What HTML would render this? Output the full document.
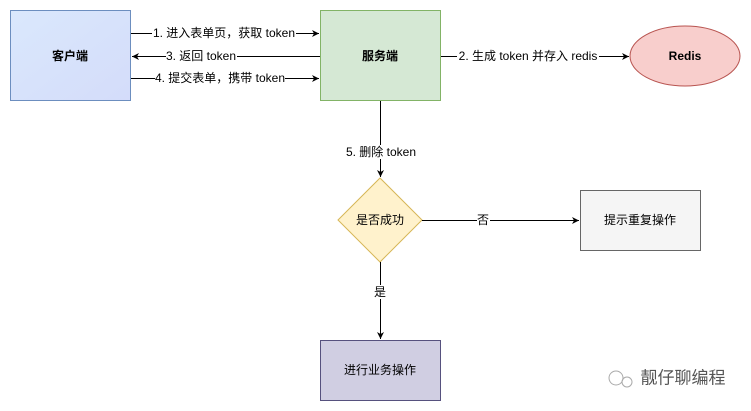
<html><body style="margin:0;width:751px;height:411px;background:#fff;position:relative;font-family:'Liberation Sans','Noto Sans CJK SC',sans-serif;overflow:hidden">
<svg width="751" height="411" style="position:absolute;left:0;top:0">
<defs>
<linearGradient id="g1" x1="0" y1="0" x2="1" y2="1"><stop offset="0" stop-color="#dae8fc"/><stop offset="1" stop-color="#d4dcfa"/></linearGradient>
<marker id="a" markerWidth="8" markerHeight="8" refX="7" refY="4" orient="auto" markerUnits="userSpaceOnUse"><path d="M0,0.5 L7,4 L0,7.5 L2,4 Z" fill="#000"/></marker>
</defs>
<rect x="10.5" y="10.5" width="120" height="90" fill="url(#g1)" stroke="#6c8ebf"/>
<rect x="320.5" y="10.5" width="120" height="90" fill="#d5e8d4" stroke="#82b366"/>
<ellipse cx="685" cy="56" rx="55" ry="30" fill="#f8cecc" stroke="#b85450"/>
<polygon points="380,178 422,220 380,262 338,220" fill="#fff2cc" stroke="#d6b656"/>
<rect x="580.5" y="190.5" width="120" height="60" fill="#f5f5f5" stroke="#666"/>
<rect x="320.5" y="340.5" width="120" height="60" fill="#d0cee2" stroke="#56517e"/>
<g stroke="#000" fill="none">
<line x1="131" y1="33.5" x2="319" y2="33.5" marker-end="url(#a)"/>
<line x1="320" y1="56.5" x2="132" y2="56.5" marker-end="url(#a)"/>
<line x1="131" y1="78.5" x2="319" y2="78.5" marker-end="url(#a)"/>
<line x1="441" y1="56.5" x2="629" y2="56.5" marker-end="url(#a)"/>
<line x1="380.5" y1="101" x2="380.5" y2="177" marker-end="url(#a)"/>
<line x1="422" y1="220.5" x2="579" y2="220.5" marker-end="url(#a)"/>
<line x1="380.5" y1="262" x2="380.5" y2="339" marker-end="url(#a)"/>
</g>
<g font-size="12" text-anchor="middle" dominant-baseline="central" fill="#000">
<g fill="#fff"><rect x="152" y="26" width="144" height="14"/><rect x="166" y="49" width="71" height="14"/><rect x="155" y="71" width="130" height="14"/><rect x="457" y="49" width="142" height="14"/><rect x="345" y="145" width="72" height="14"/><rect x="477" y="213" width="13" height="14"/><rect x="374" y="285" width="13" height="14"/></g>
<text x="224" y="33">1. 进入表单页，获取 token</text>
<text x="201" y="56">3. 返回 token</text>
<text x="220" y="78">4. 提交表单，携带 token</text>
<text x="528" y="56">2. 生成 token 并存入 redis</text>
<text x="381" y="152">5. 删除 token</text>
<text x="483" y="220">否</text>
<text x="380" y="292">是</text>
<g font-size="12"><text x="70" y="56" font-weight="bold">客户端</text>
<text x="380" y="56" font-weight="bold">服务端</text>
<text x="685" y="56" font-weight="bold">Redis</text>
<text x="380" y="220">是否成功</text>
<text x="640" y="220">提示重复操作</text>
<text x="380" y="370">进行业务操作</text></g>
<text x="683" y="378" font-size="17" fill="#555">靓仔聊编程</text>
</g>
<g stroke="#aaa" fill="none"><circle cx="616" cy="378" r="7"/><circle cx="627" cy="382" r="5"/></g>
</svg>
</body></html>
